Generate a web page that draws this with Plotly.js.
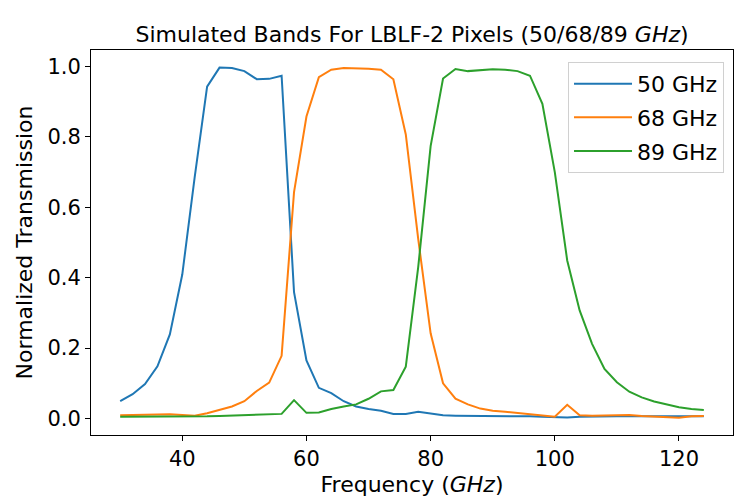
<!DOCTYPE html>
<html>
<head>
<meta charset="utf-8">
<script src="https://cdn.plot.ly/plotly-3.0.1.min.js"></script>
<style>
  body { margin: 0; background: #fff; }
  #myDiv { width: 750px; height: 500px; }
</style>
</head>
<body>
<div id="myDiv"></div>
<script>
// frequency grid (GHz) and simulated transmission for each pixel band
let freq = [30, 32, 34, 36, 38, 40, 42, 44, 46, 48, 50, 52, 54, 56, 58, 60,
            62, 64, 66, 68, 70, 72, 74, 76, 78, 80, 82, 84, 86, 88, 90, 92,
            94, 96, 98, 100, 102, 104, 106, 108, 110, 112, 114, 116, 118, 120, 122, 124];

let band50 = [0.049, 0.069, 0.098, 0.148, 0.239, 0.409, 0.686, 0.943, 0.997, 0.996, 0.987, 0.964, 0.965, 0.974, 0.359, 0.165,
              0.087, 0.072, 0.049, 0.034, 0.027, 0.022, 0.013, 0.013, 0.019, 0.015, 0.009, 0.008, 0.008, 0.007, 0.007, 0.006,
              0.006, 0.006, 0.005, 0.004, 0.003, 0.005, 0.006, 0.006, 0.006, 0.006, 0.006, 0.006, 0.006, 0.006, 0.006, 0.006];

let band68 = [0.009, 0.009, 0.010, 0.011, 0.012, 0.011, 0.008, 0.015, 0.025, 0.034, 0.049, 0.078, 0.102, 0.178, 0.643, 0.858,
              0.970, 0.991, 0.996, 0.996, 0.994, 0.991, 0.964, 0.807, 0.510, 0.242, 0.100, 0.056, 0.040, 0.028, 0.022, 0.019,
              0.016, 0.013, 0.010, 0.005, 0.039, 0.009, 0.008, 0.008, 0.008, 0.010, 0.007, 0.006, 0.004, 0.002, 0.006, 0.007];

let band89 = [0.005, 0.005, 0.005, 0.005, 0.005, 0.005, 0.004, 0.006, 0.007, 0.008, 0.009, 0.010, 0.011, 0.013, 0.052, 0.016,
              0.017, 0.027, 0.034, 0.040, 0.056, 0.077, 0.081, 0.147, 0.430, 0.774, 0.966, 0.993, 0.987, 0.990, 0.992, 0.991,
              0.987, 0.974, 0.894, 0.700, 0.449, 0.307, 0.212, 0.141, 0.103, 0.076, 0.060, 0.048, 0.040, 0.032, 0.027, 0.024];

let names = ['50 GHz', '68 GHz', '89 GHz'];

function plotBands() {

  var font = 'DejaVu Sans, sans-serif';

  var trace1 = {
    x: freq,
    y: band50,
    mode: 'lines',
    name: names[0],
    legendgroup: 'a',
    type: 'scatter',
    line: { width: 2, color: '#1f77b4' }
  };

  var trace2 = {
    x: freq,
    y: band68,
    mode: 'lines',
    name: names[1],
    legendgroup: 'b',
    type: 'scatter',
    line: { width: 2, color: '#ff7f0e' }
  };

  var trace3 = {
    x: freq,
    y: band89,
    mode: 'lines',
    name: names[2],
    legendgroup: 'c',
    type: 'scatter',
    line: { width: 2, color: '#2ca02c' }
  };

  var data = [ trace1, trace2, trace3 ];

  var layout = {
    width: 750,
    height: 500,
    margin: { l: 91, r: 17, t: 50, b: 65 },
    paper_bgcolor: '#ffffff',
    plot_bgcolor: '#ffffff',
    font: { family: font, size: 22, color: '#000000' },
    title: {
      text: 'Simulated Bands For LBLF-2 Pixels (50/68/89 <i>GHz</i>)',
      font: { family: font, size: 22, color: '#000000' },
      x: 0.5,
      xref: 'paper',
      y: 0.932,
      yref: 'container',
      yanchor: 'middle'
    },
    showlegend: true,
    legend: {
      x: 0.986,
      y: 0.969,
      xanchor: 'right',
      yanchor: 'top',
      traceorder: 'grouped',
      tracegroupgap: 2,
      itemwidth: 58,
      bgcolor: 'rgba(255,255,255,0.8)',
      bordercolor: '#d0d0d0',
      borderwidth: 1,
      font: { family: font, size: 22, color: '#000000' }
    },
    xaxis: {
      range: [25.3, 128.7],
      tickvals: [40, 60, 80, 100, 120],
      showgrid: false,
      zeroline: false,
      showline: true,
      mirror: true,
      linecolor: '#000000',
      linewidth: 1,
      ticks: 'outside',
      ticklen: 5,
      tickwidth: 1,
      tickcolor: '#000000',
      tickfont: { family: font, size: 21 },
      title: { text: 'Frequency (<i>GHz</i>)', standoff: 6, font: { family: font, size: 22 } }
    },
    yaxis: {
      range: [-0.047, 1.047],
      tickvals: [0, 0.2, 0.4, 0.6, 0.8, 1.0],
      tickformat: '.1f',
      showgrid: false,
      zeroline: false,
      showline: true,
      mirror: true,
      linecolor: '#000000',
      linewidth: 1,
      ticks: 'outside',
      ticklen: 5,
      tickwidth: 1,
      tickcolor: '#000000',
      tickfont: { family: font, size: 21 },
      title: { text: 'Normalized Transmission', standoff: 8, font: { family: font, size: 22 } }
    }
  };

  Plotly.newPlot('myDiv', data, layout, { displayModeBar: false, staticPlot: true });
}

plotBands();
</script>
</body>
</html>
